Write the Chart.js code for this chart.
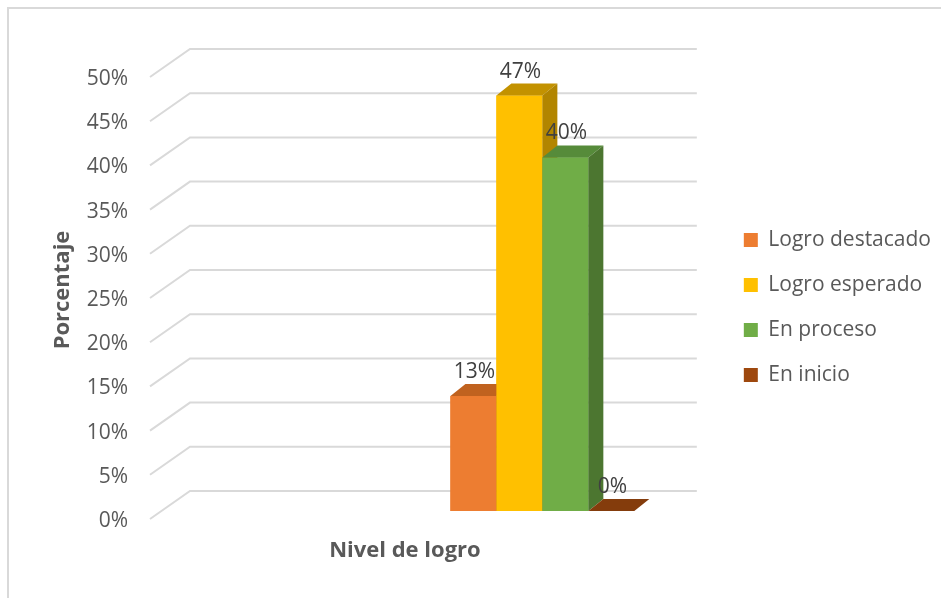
<!DOCTYPE html>
<html><head><meta charset="utf-8">
<script src="https://cdn.jsdelivr.net/npm/chart.js@4.4.1/dist/chart.umd.min.js"></script>
<style>
html,body{margin:0;padding:0;background:#fff;}
#wrap{position:relative;width:941px;height:598px;overflow:hidden;}
#frame{position:absolute;left:7px;top:7px;width:1000px;height:1000px;border-left:2px solid #d9d9d9;border-top:2px solid #d9d9d9;}
canvas{position:absolute;left:0;top:0;}
</style></head><body>
<div id="wrap"><div id="frame"></div><canvas id="c" width="941" height="598"></canvas></div>
<script>
// ---- data ----
const categories = ['', ''];
const seriesNames = ['Logro destacado', 'Logro esperado', 'En proceso', 'En inicio'];
const logroDestacado = [null, 13];
const logroEsperado = [null, 47];
const enProceso = [null, 40];
const enInicio = [null, 0];
const yTickValues = [0, 5, 10, 15, 20, 25, 30, 35, 40, 45, 50];
const yTickLabels = ['0%', '5%', '10%', '15%', '20%', '25%', '30%', '35%', '40%', '45%', '50%'];

// ---- style ----
const FONT = '"Open Sans", "Liberation Sans", sans-serif';
const frontColors = ['#ED7D31', '#FFC000', '#70AD47', '#9E480E'];
const topColors = ['#C0621F', '#C39200', '#568B3A', '#843C0C'];
const sideColors = ['#B0561A', '#B28500', '#4C7630', '#6E320A'];
const DX = 15, DY = 12;
const textGray = '#595959';
const FS = 21;
const LEG_PAD = 24, BOXW = 14;

const bar3d = {
  id: 'bar3d',
  beforeDatasetsDraw(chart) {
    const ctx = chart.ctx, ys = chart.scales.y, ca = chart.chartArea;
    ctx.save();
    ctx.strokeStyle = '#d9d9d9';
    ctx.lineWidth = 2;
    ys.ticks.forEach(t => {
      const py = ys.getPixelForValue(t.value);
      ctx.beginPath();
      ctx.moveTo(ca.left + 20, py + 8);
      ctx.lineTo(ca.left + 60, py - 20);
      ctx.lineTo(ca.right + 17, py - 20);
      ctx.stroke();
    });
    ctx.restore();
  },
  afterDatasetsDraw(chart) {
    const ctx = chart.ctx;
    const poly = (pts, col) => {
      ctx.beginPath();
      ctx.moveTo(pts[0][0], pts[0][1]);
      for (let k = 1; k < pts.length; k++) ctx.lineTo(pts[k][0], pts[k][1]);
      ctx.closePath();
      ctx.fillStyle = col;
      ctx.fill();
    };
    ctx.save();
    const labels = [];
    chart.data.datasets.forEach((ds, i) => {
      const meta = chart.getDatasetMeta(i);
      meta.data.forEach((el, j) => {
        const v = ds.data[j];
        if (v === null || v === undefined) return;
        const {x, y, base, width} = el.getProps(['x', 'y', 'base', 'width'], true);
        const l = x - width / 2, r = x + width / 2;
        ctx.fillStyle = frontColors[i];
        ctx.fillRect(l, y, width, base - y);
        poly([[l, y], [r, y], [r + DX, y - DY], [l + DX, y - DY]], topColors[i]);
        if (base - y > 0.5) poly([[r, y], [r + DX, y - DY], [r + DX, base - DY], [r, base]], sideColors[i]);
        labels.push([x + 1, y - 24, v + '%']);
      });
    });
    ctx.font = FS + 'px ' + FONT;
    ctx.fillStyle = '#404040';
    ctx.textAlign = 'center';
    ctx.textBaseline = 'middle';
    labels.forEach(([lx, ly, t]) => ctx.fillText(t, lx, ly));
    ctx.restore();
  }
};

const spacer = {
  display: false,
  grid: {display: false, drawTicks: false},
  border: {display: false},
  ticks: {display: false}
};

new Chart(document.getElementById('c'), {
  type: 'bar',
  data: {
    labels: categories,
    datasets: [
      {label: seriesNames[0], data: logroDestacado, backgroundColor: frontColors[0]},
      {label: seriesNames[1], data: logroEsperado, backgroundColor: frontColors[1]},
      {label: seriesNames[2], data: enProceso, backgroundColor: frontColors[2]},
      {label: seriesNames[3], data: enInicio, backgroundColor: frontColors[3]}
    ]
  },
  options: {
    responsive: false,
    animation: false,
    events: [],
    layout: {padding: {top: 17, right: 0, bottom: 0, left: 0}},
    datasets: {bar: {categoryPercentage: 0.669, barPercentage: 1, borderWidth: 0}},
    plugins: {
      tooltip: {enabled: false},
      legend: {
        position: 'right',
        align: 'center',
        labels: {
          boxWidth: BOXW, boxHeight: 14, padding: LEG_PAD,
          color: textGray, font: {family: FONT, size: FS}
        }
      }
    },
    scales: {
      x: {
        type: 'category',
        grid: {display: false, drawTicks: false},
        border: {display: false},
        ticks: {display: false},
        title: {display: true, text: 'Nivel de logro', color: textGray,
                font: {family: FONT, size: 22, weight: 'bold'}, padding: {top: 0, bottom: 34}},
        afterFit: s => { s.height = 87; }
      },
      x2: Object.assign({type: 'category', position: 'top', afterFit: s => { s.height = 52; }}, spacer),
      y: {
        type: 'linear',
        min: 0, max: 50,
        afterBuildTicks: s => { s.ticks = yTickValues.map(v => ({value: v})); },
        grid: {display: false, drawTicks: false},
        border: {display: false},
        ticks: {
          padding: 2, labelOffset: 10, color: textGray,
          font: {family: FONT, size: FS},
          callback: (v) => yTickLabels[yTickValues.indexOf(v)]
        },
        title: {display: true, text: 'Porcentaje', color: textGray,
                font: {family: FONT, size: 22, weight: 'bold'}, padding: {top: 50, bottom: 0}},
        afterFit: s => { s.width = 130; }
      },
      y2: Object.assign({type: 'linear', position: 'right', afterFit: s => { s.width = 40; }}, spacer)
    }
  },
  plugins: [bar3d]
});
</script>
</body></html>
